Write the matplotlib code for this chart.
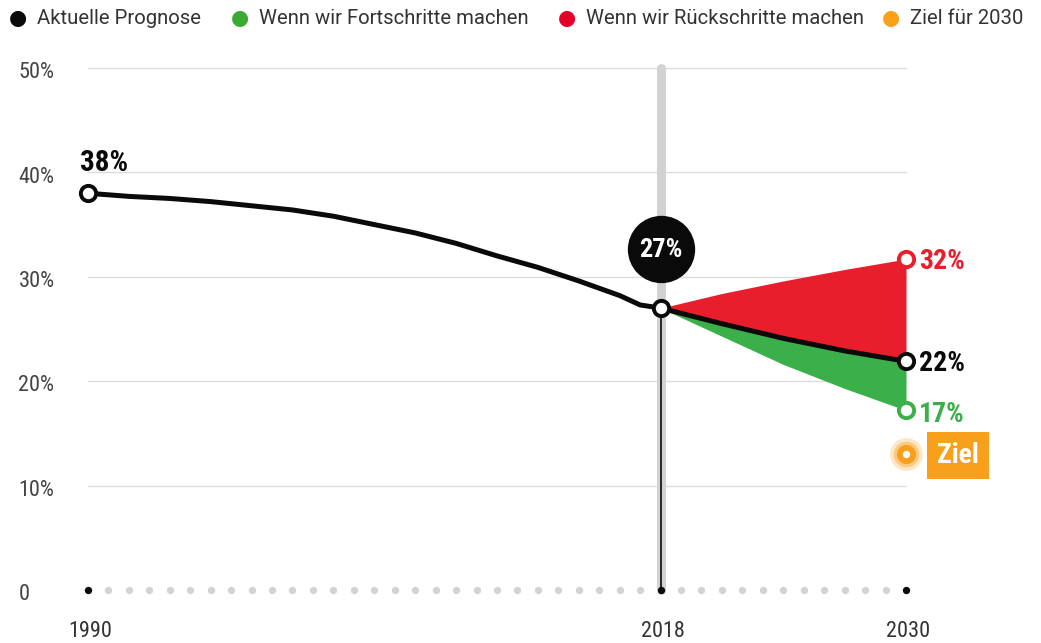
import matplotlib
matplotlib.use('Agg')
import matplotlib.pyplot as plt
from matplotlib import font_manager
import numpy as np

# data
hist_years = [1990, 1992, 1994, 1996, 1998, 2000, 2002, 2004, 2006, 2008, 2010, 2012, 2014, 2016, 2017, 2018]
hist_vals = [38.0, 37.7, 37.5, 37.2, 36.8, 36.4, 35.8, 35.0, 34.2, 33.2, 32.0, 30.9, 29.6, 28.2, 27.3, 27.0]

proj_years = [2018, 2021, 2024, 2027, 2030]
proj_mid = [27.0, 25.5, 24.1, 22.9, 21.9]
proj_high = [27.0, 28.4, 29.6, 30.7, 31.7]
proj_low = [27.0, 24.3, 21.6, 19.3, 17.2]

goal_year = 2030
goal_val = 13.0

now_year = 2018
now_label = "27%"
start_label = "38%"
end_labels = ["32%", "22%", "17%"]

y_ticks = [0, 10, 20, 30, 40, 50]
y_ticklabels = ["0", "10%", "20%", "30%", "40%", "50%"]
x_ticks = [1990, 2018, 2030]

legend_labels = ["Aktuelle Prognose", "Wenn wir Fortschritte machen",
                 "Wenn wir Rückschritte machen", "Ziel für 2030"]

BLACK = '#0a0a0a'
GREEN = '#3bb04a'
RED = '#e91e2c'
ORANGE = '#f8a01c'
GRID = '#dcdcdc'

# pick the narrowest face we can find
names = {f.name for f in font_manager.fontManager.ttflist}
narrow_pick = None
for cand in ['Noto Sans ExtraCondensed', 'Noto Sans Condensed', 'Liberation Sans Narrow',
             'Roboto Condensed', 'DejaVu Sans Condensed', 'Open Sans Condensed']:
    if cand in names:
        narrow_pick = cand
        break
if narrow_pick is None:
    narrow_pick = 'Roboto' if 'Roboto' in names else 'DejaVu Sans'
NARROW = dict(family=[narrow_pick, 'DejaVu Sans'])
LEG_FONT = 'Roboto' if 'Roboto' in names else 'DejaVu Sans'

fig = plt.figure(figsize=(10.41, 6.43), dpi=100)
ax = fig.add_axes([0, 0, 1, 1])
ax.set_xlim(1985.70, 2036.60)
ax.set_ylim(-5.08, 56.51)
ax.axis('off')

# grid lines
for v in y_ticks[1:]:
    ax.plot([1990, 2030], [v, v], color=GRID, lw=1, zorder=0)

# y labels
for v, lab in zip(y_ticks, y_ticklabels):
    ax.text(1986.6, v - 0.45, lab, ha='left', va='center', fontsize=16,
            color='#444444', **NARROW)

# x labels
for yr in x_ticks:
    ax.text(yr + 0.1, -4.0, str(yr), ha='center', va='center', fontsize=16,
            color='#333333', **NARROW)

# dots on baseline
all_years = np.arange(1990, 2031)
gray_years = [y for y in all_years if y not in x_ticks]
ax.scatter(gray_years, [0] * len(gray_years), s=28, color='#d3d3d3', lw=0, zorder=2)
ax.scatter(x_ticks, [0] * len(x_ticks), s=28, color=BLACK, lw=0, zorder=4)

# vertical bar at 2018
ax.plot([now_year, now_year], [0, 50], color='#d2d2d2', lw=6.5,
        solid_capstyle='round', zorder=1)
ax.plot([now_year, now_year], [0, 27], color=BLACK, lw=1.2, zorder=3)

# scenario fans
ax.fill_between(proj_years, proj_mid, proj_high, color=RED, lw=0, zorder=2)
ax.fill_between(proj_years, proj_low, proj_mid, color=GREEN, lw=0, zorder=2)

# main line
ax.plot(hist_years + proj_years[1:], hist_vals + proj_mid[1:], color=BLACK,
        lw=3.6, solid_capstyle='round', solid_joinstyle='round', zorder=5)

# hollow markers
mk = dict(marker='o', markersize=11, markerfacecolor='white', markeredgewidth=2.8,
          linestyle='none', zorder=6)
ax.plot([hist_years[0]], [hist_vals[0]], markeredgecolor=BLACK, **mk)
ax.plot([now_year], [hist_vals[-1]], markeredgecolor=BLACK, **mk)
ax.plot([proj_years[-1]], [proj_mid[-1]], markeredgecolor=BLACK, **mk)
ax.plot([proj_years[-1]], [proj_high[-1]], markeredgecolor=RED, **mk)
ax.plot([proj_years[-1]], [proj_low[-1]], markeredgecolor=GREEN, **mk)

# value labels
ax.text(1989.6, 40.9, start_label, ha='left', va='center', fontsize=21,
        fontweight='bold', color=BLACK, **NARROW)
ax.text(2030.65, proj_high[-1] - 0.25, end_labels[0], ha='left', va='center',
        fontsize=20, fontweight='bold', color=RED, **NARROW)
ax.text(2030.65, proj_mid[-1] - 0.25, end_labels[1], ha='left', va='center',
        fontsize=20, fontweight='bold', color=BLACK, **NARROW)
ax.text(2030.65, proj_low[-1] - 0.4, end_labels[2], ha='left', va='center',
        fontsize=20, fontweight='bold', color=GREEN, **NARROW)

# big bubble with current value
ax.scatter([now_year], [32.7], s=2350, color=BLACK, lw=0, zorder=7)
ax.text(now_year, 32.6, now_label, ha='center', va='center', fontsize=19,
        fontweight='bold', color='white', zorder=8, **NARROW)

# goal marker with halo
ax.scatter([goal_year], [goal_val], s=560, color=ORANGE, alpha=0.25, lw=0, zorder=6)
ax.scatter([goal_year], [goal_val], s=340, color=ORANGE, alpha=0.4, lw=0, zorder=6)
ax.scatter([goal_year], [goal_val], s=190, color=ORANGE, lw=0, zorder=7)
ax.scatter([goal_year], [goal_val], s=28, color='white', lw=0, zorder=8)
ax.text(goal_year + 2.55, goal_val - 0.1, "Ziel", ha='center', va='center',
        fontsize=20, fontweight='bold', color='white', zorder=8, **NARROW,
        bbox=dict(boxstyle='square,pad=0.36', fc=ORANGE, ec='none'))

# legend row
leg_colors = [BLACK, '#3aaa35', '#e4002b', '#f9a11b']
dot_x = [18, 240, 567, 891]
for cx, col, lab in zip(dot_x, leg_colors, legend_labels):
    fig.text(cx / 1041, 1 - 18 / 643, '\u25cf', ha='center', va='center',
             fontsize=15, color=col, family='DejaVu Sans')
    fig.text((cx + 19) / 1041, 1 - 18 / 643, lab, ha='left', va='center',
             fontsize=14.6, color='#333333', family=LEG_FONT)

fig.savefig('out.png', dpi=100)
